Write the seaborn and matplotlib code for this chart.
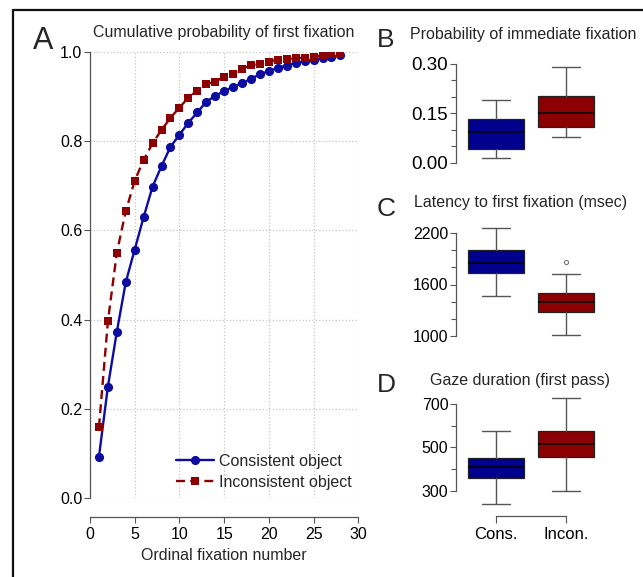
import matplotlib
matplotlib.use("Agg")
import matplotlib.pyplot as plt
import seaborn as sns
from matplotlib.lines import Line2D

# --- data ---
fixation_number = list(range(1, 29))
consistent = [0.093, 0.250, 0.373, 0.484, 0.557, 0.630, 0.698, 0.744, 0.787, 0.814,
              0.841, 0.864, 0.888, 0.901, 0.912, 0.921, 0.930, 0.939, 0.950, 0.956,
              0.964, 0.969, 0.975, 0.979, 0.982, 0.986, 0.989, 0.992]
inconsistent = [0.159, 0.396, 0.550, 0.643, 0.711, 0.758, 0.795, 0.825, 0.852, 0.875,
                0.897, 0.913, 0.928, 0.933, 0.944, 0.951, 0.962, 0.970, 0.972, 0.978,
                0.982, 0.984, 0.985, 0.987, 0.989, 0.992, 0.994, 0.996]

groups = ["Cons.", "Incon."]
# whisker low, Q1, median, Q3, whisker high
prob_cons = [0.014, 0.042, 0.094, 0.133, 0.190]
prob_incon = [0.077, 0.109, 0.150, 0.202, 0.292]
latency_cons = [1465, 1735, 1848, 2004, 2258]
latency_incon = [1008, 1281, 1399, 1504, 1719]
latency_incon_outliers = [1864]
gaze_cons = [240, 361, 411, 451, 575]
gaze_incon = [300, 457, 517, 575, 727]

prob_ticks = [0.0, 0.15, 0.30]
prob_minor = [0.05, 0.10, 0.20, 0.25]
latency_ticks = [1000, 1600, 2200]
latency_minor = [1200, 1400, 1800, 2000]
gaze_ticks = [300, 500, 700]
gaze_minor = [400, 600]

BLUE = "#00008f"
RED = "#8b0000"
LINE_BLUE = "#0c0ca0"
SPINE = "#555555"
FS = 11.5

W, H = 643, 577

sns.set_style("ticks")
plt.rcParams["font.family"] = ["Liberation Sans", "DejaVu Sans"]

fig = plt.figure(figsize=(W / 100, H / 100), dpi=100)
fig.patch.set_facecolor("white")


def px_rect(left, right, top, bottom):
    return [left / W, 1 - bottom / H, (right - left) / W, (bottom - top) / H]


def style_ticks(ax, size=FS):
    ax.tick_params(which="both", direction="out", length=4, width=0.8,
                   color=SPINE, labelsize=size, labelcolor="black", pad=1.5)
    for s in ax.spines.values():
        s.set_color(SPINE)
        s.set_linewidth(0.9)


# --- panel A ---
axA = fig.add_axes(px_rect(90, 358.3, 51.7, 498.3))
sns.lineplot(x=fixation_number, y=consistent, ax=axA, color=LINE_BLUE, lw=1.7,
             marker="o", markersize=6.6, markeredgewidth=0, label="Consistent object")
sns.lineplot(x=fixation_number, y=inconsistent, ax=axA, color=RED, lw=1.7,
             linestyle=(0, (3.8, 2.2)), marker="s", markersize=6.2, markeredgewidth=0,
             label="Inconsistent object")
axA.set_xlim(0, 30)
axA.set_ylim(0, 1)
axA.set_xticks([0, 5, 10, 15, 20, 25, 30])
axA.set_yticks([0.0, 0.2, 0.4, 0.6, 0.8, 1.0])
axA.set_yticklabels(["0.0", "0.2", "0.4", "0.6", "0.8", "1.0"])
axA.grid(True, ls=":", color="#c4c4c4", lw=0.9)
axA.set_axisbelow(True)
for s in ["top", "right"]:
    axA.spines[s].set_visible(False)
axA.spines["bottom"].set_position(("outward", 13.7))
style_ticks(axA)
axA.tick_params(axis="x", pad=3)
axA.set_xlabel("Ordinal fixation number", fontsize=FS, labelpad=4)
axA.set_ylabel("")
axA.legend(loc="lower right", bbox_to_anchor=(1.01, -0.003), frameon=False,
           fontsize=FS, handlelength=2.4, handletextpad=0.3, labelspacing=0.38,
           borderaxespad=0.2)


# --- panels B, C, D ---
def stats(five, label, fliers=()):
    lo, q1, med, q3, hi = five
    return dict(whislo=lo, q1=q1, med=med, q3=q3, whishi=hi,
                fliers=list(fliers), label=label)


def box_panel(rect, cons, incon, ylim, ticks, minor, fmt, incon_fliers=(),
              show_x=False, tick_size=FS):
    ax = fig.add_axes(rect)
    bp = ax.bxp([stats(cons, groups[0]), stats(incon, groups[1], incon_fliers)],
                positions=[0, 1], widths=0.8, patch_artist=True, showfliers=True,
                boxprops=dict(linewidth=0.9, edgecolor="#222222"),
                medianprops=dict(color="black", linewidth=1.1),
                whiskerprops=dict(color=SPINE, linewidth=1),
                capprops=dict(color=SPINE, linewidth=1),
                flierprops=dict(marker="o", markersize=3, markerfacecolor="none",
                                markeredgecolor="#777777", markeredgewidth=0.8))
    for patch, c in zip(bp["boxes"], [BLUE, RED]):
        patch.set_facecolor(c)
    ax.set_xlim(-0.57, 1.5)
    ax.set_yticks(ticks)
    ax.set_yticklabels([fmt.format(t) for t in ticks])
    ax.set_yticks(minor, minor=True)
    ax.set_ylim(*ylim)
    ax.spines["left"].set_bounds(ticks[0], ticks[-1])
    for s in ["top", "right"]:
        ax.spines[s].set_visible(False)
    style_ticks(ax, tick_size)
    ax.tick_params(axis="y", which="minor", length=3.5)
    if show_x:
        ax.spines["bottom"].set_bounds(0, 1)
        ax.spines["bottom"].set_position(("outward", 6))
        ax.set_xticks([0, 1])
        ax.set_xticklabels(groups, fontsize=12)
        ax.tick_params(axis="x", length=5, pad=3)
    else:
        ax.spines["bottom"].set_visible(False)
        ax.set_xticks([])
    ax.xaxis.set_minor_locator(plt.NullLocator())
    return ax


def rect_for(left_px, right_px, v1, p1, v2, p2, ylim):
    scale = (p1 - p2) / (v2 - v1)
    top = p2 - (ylim[1] - v2) * scale
    bottom = p1 + (v1 - ylim[0]) * scale
    return px_rect(left_px, right_px, top, bottom)


ylimB = (-0.004, 0.305)
axB = box_panel(rect_for(456, 601, 0.0, 162.7, 0.30, 64, ylimB), prob_cons, prob_incon,
                ylimB, prob_ticks, prob_minor, "{:.2f}", tick_size=13.5)
ylimC = (950, 2300)
axC = box_panel(rect_for(456, 601, 1000, 335.7, 2200, 233.3, ylimC), latency_cons,
                latency_incon, ylimC, latency_ticks, latency_minor, "{:.0f}",
                incon_fliers=latency_incon_outliers)
ylimD = (225, 740)
axD = box_panel(rect_for(456, 601, 300, 491, 700, 403.7, ylimD), gaze_cons, gaze_incon,
                ylimD, gaze_ticks, gaze_minor, "{:.0f}", show_x=True)

# --- titles and panel letters ---
fig.text(224 / W, 1 - 33 / H, "Cumulative probability of first fixation",
         ha="center", va="center", fontsize=FS)
fig.text(523 / W, 1 - 34 / H, "Probability of immediate fixation",
         ha="center", va="center", fontsize=FS)
fig.text(521 / W, 1 - 203 / H, "Latency to first fixation (msec)",
         ha="center", va="center", fontsize=FS)
fig.text(520 / W, 1 - 380 / H, "Gaze duration (first pass)",
         ha="center", va="center", fontsize=FS)
fig.text(43 / W, 1 - 41 / H, "A", ha="center", va="center", fontsize=22)
fig.text(386 / W, 1 - 40 / H, "B", ha="center", va="center", fontsize=19)
fig.text(386 / W, 1 - 209 / H, "C", ha="center", va="center", fontsize=19)
fig.text(386 / W, 1 - 385 / H, "D", ha="center", va="center", fontsize=19)

# frame of the figure (cropped at right and bottom)
fig.add_artist(Line2D([13 / W, 13 / W], [0, 1 - 10 / H], color="#111111", lw=1.6))
fig.add_artist(Line2D([13 / W, 1], [1 - 10 / H, 1 - 10 / H], color="#111111", lw=1.6))

fig.savefig("out.png", dpi=100, facecolor="white")
